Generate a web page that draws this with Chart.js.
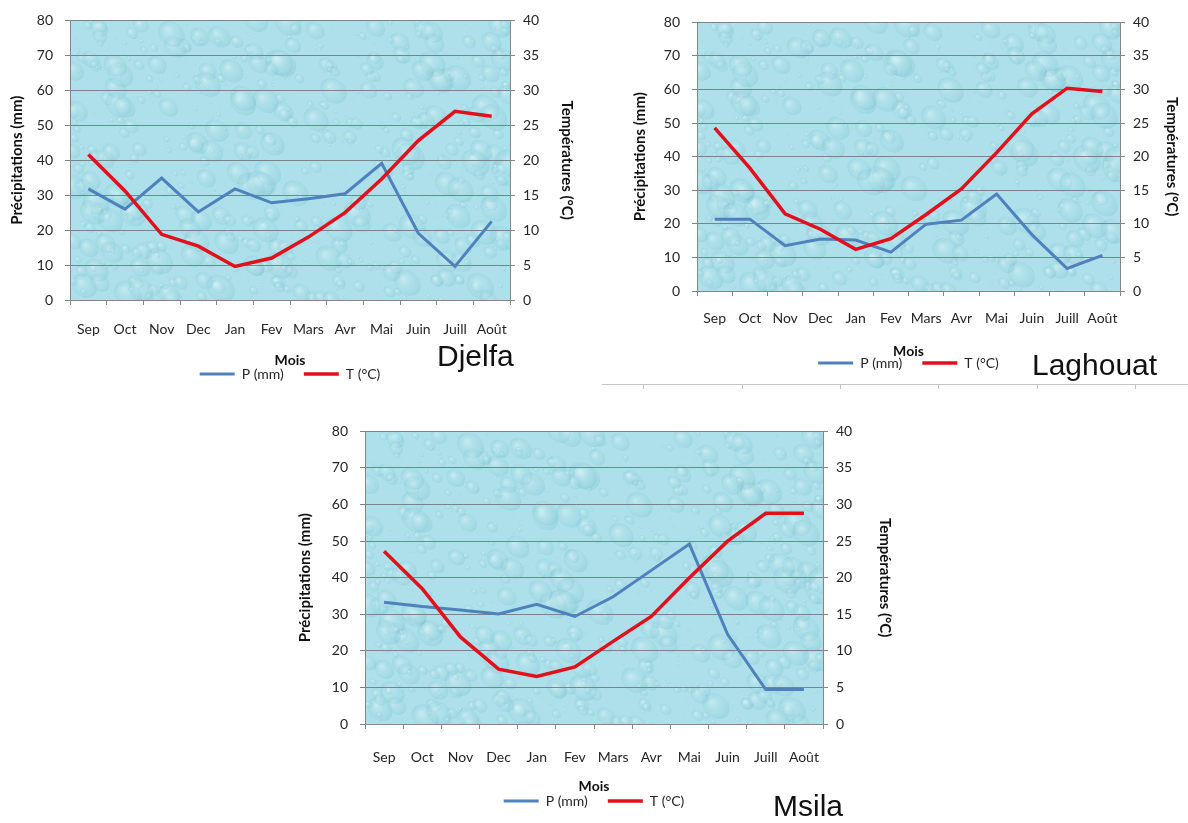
<!DOCTYPE html>
<html>
<head>
<meta charset="utf-8">
<script src="https://cdn.jsdelivr.net/npm/chart.js@4.4.1/dist/chart.umd.min.js"></script>
<style>
  body { margin: 0; background: #fff; width: 1188px; height: 823px; overflow: hidden; position: relative; }
  canvas { position: absolute; }
  .station { position: absolute; font-family: "Liberation Sans", Arial, sans-serif; font-size: 30px; line-height: 30px; color: #111; white-space: nowrap; }
  .rule { position: absolute; background: #c4c4c4; }
</style>
</head>
<body>
<canvas id="djelfa"></canvas>
<canvas id="laghouat"></canvas>
<canvas id="msila"></canvas>
<div class="station" style="left:437px; top:341px;">Djelfa</div>
<div class="station" style="left:1032px; top:350px;">Laghouat</div>
<div class="station" style="left:773px; top:791px;">Msila</div>
<div class="rule" style="left:602px; top:384px; width:586px; height:1px;"></div>
<div class="rule" style="left:643px; top:385px; width:1px; height:4px;"></div>
<div class="rule" style="left:742px; top:385px; width:1px; height:4px;"></div>
<div class="rule" style="left:840px; top:385px; width:1px; height:4px;"></div>
<div class="rule" style="left:938px; top:385px; width:1px; height:4px;"></div>
<div class="rule" style="left:1037px; top:385px; width:1px; height:4px;"></div>
<div class="rule" style="left:1135px; top:385px; width:1px; height:4px;"></div>
<script>
// months, Sep -> Août
const months = ['Sep', 'Oct', 'Nov', 'Dec', 'Jan', 'Fev', 'Mars', 'Avr', 'Mai', 'Juin', 'Juill', 'Août'];

// precipitation (mm) and temperature (°C)
const pDjelfa = [31.8, 26.0, 34.9, 25.2, 31.8, 27.8, 29.0, 30.4, 39.1, 19.1, 9.6, 22.5];
const tDjelfa = [20.8, 15.6, 9.4, 7.7, 4.8, 6.0, 9.0, 12.5, 17.3, 22.8, 27.0, 26.3];

const pLaghouat = [21.4, 21.4, 13.5, 15.5, 15.2, 11.6, 19.9, 21.1, 28.9, 16.8, 6.7, 10.6];
const tLaghouat = [24.3, 18.3, 11.5, 9.2, 6.2, 7.8, 11.4, 15.2, 20.6, 26.4, 30.2, 29.7];

const pMsila = [33.3, 32.1, 31.2, 30.1, 32.7, 29.4, 34.8, 42.0, 49.2, 24.5, 9.4, 9.4];
const tMsila = [23.6, 18.5, 11.9, 7.5, 6.5, 7.8, 11.3, 14.7, 20.0, 25.0, 28.8, 28.8];

// axis ticks
const pTicks = [0, 10, 20, 30, 40, 50, 60, 70, 80];
const tTicks = [0, 5, 10, 15, 20, 25, 30, 35, 40];

// where each graph sits on the page
const frames = {
    djelfa:   { titleL: 17,  titleR: 567,  plotL: 70,  plotR: 510,  plotT: 17,  plotB: 300, xlabY: 329, moisY: 360, legY: 374 },
    laghouat: { titleL: 640, titleR: 1172, plotL: 697, plotR: 1120, plotT: 19,  plotB: 291, xlabY: 318, moisY: 351, legY: 363 },
    msila:    { titleL: 305, titleR: 885,  plotL: 365, plotR: 823,  plotT: 428, plotB: 724, xlabY: 757, moisY: 786, legY: 801 }
};

const gridGrey = '#7a8589';
const axisGrey = '#868686';
const textGrey = '#262626';

// water drop texture behind the plot area
const dropsBackground = {
    id: 'dropsBackground',
    beforeDraw(chart) {
        const a = chart.chartArea;
        const ctx = chart.ctx;
        const w = a.right - a.left, h = a.bottom - a.top;
        ctx.save();
        ctx.beginPath();
        ctx.rect(a.left, a.top, w, h);
        ctx.clip();
        ctx.fillStyle = '#ade0ea';
        ctx.fillRect(a.left, a.top, w, h);

        let seed = 4242;
        const next = () => (seed = (seed * 16807) % 2147483647) / 2147483647;
        const count = Math.round(w * h / 160);
        for (let i = 0; i < count; i++) {
            const x = a.left + next() * w;
            const y = a.top + next() * h;
            const r = 1.5 + Math.pow(next(), 3) * 14;
            const g = ctx.createRadialGradient(x - r * 0.3, y - r * 0.3, r * 0.05, x, y, r);
            g.addColorStop(0, 'rgba(240,252,253,0.35)');
            g.addColorStop(0.6, 'rgba(150,210,222,0.18)');
            g.addColorStop(1, 'rgba(110,185,202,0.28)');
            ctx.fillStyle = g;
            ctx.beginPath();
            ctx.ellipse(x, y, r, r * 0.8, 0.7, 0, Math.PI * 2);
            ctx.fill();
        }
        ctx.restore();
    }
};

const makeChart = (id, pData, tData) => {
    const f = frames[id];
    const cL = f.titleL - 16;
    const cR = f.titleR + 16;
    const cT = f.plotT - 17;
    const legTop = f.legY - 27;
    const H = legTop + 44 + 2 - cT;

    const canvas = document.getElementById(id);
    canvas.width = cR - cL;
    canvas.height = H;
    canvas.style.left = cL + 'px';
    canvas.style.top = cT + 'px';

    const tickFont = { family: 'Lato', size: 14 };
    const titleFont = { family: 'Lato', size: 15, weight: 'bold' };
    const lh = 15 * 1.2 / 2;

    new Chart(canvas.getContext('2d'), {
        type: 'line',
        data: {
            labels: months,
            datasets: [
                {
                    label: 'P (mm)',
                    data: pData,
                    yAxisID: 'y',
                    borderColor: '#4f81bd',
                    backgroundColor: '#4f81bd',
                    pointBorderColor: '#4f81bd',
                    pointBorderWidth: 3,
                    borderWidth: 3,
                    pointRadius: 0,
                    tension: 0,
                    order: 2
                },
                {
                    label: 'T (°C)',
                    data: tData,
                    yAxisID: 'y1',
                    borderColor: '#e3101b',
                    backgroundColor: '#e3101b',
                    pointBorderColor: '#e3101b',
                    pointBorderWidth: 3.5,
                    borderWidth: 3.5,
                    pointRadius: 0,
                    tension: 0,
                    order: 1
                }
            ]
        },
        options: {
            responsive: false,
            animation: false,
            events: [],
            layout: {
                autoPadding: false,
                padding: { top: f.plotT - cT, left: 0, right: 0, bottom: 2 }
            },
            scales: {
                x: {
                    offset: true,
                    afterFit: (s) => { s.height = legTop - f.plotB; },
                    grid: { offset: true, drawOnChartArea: false, drawTicks: true, tickLength: 5, color: axisGrey },
                    border: { display: true, color: axisGrey, width: 1 },
                    ticks: { autoSkip: false, maxRotation: 0, padding: f.xlabY - f.plotB - 5 - 8.4, font: tickFont, color: textGrey },
                    title: { display: true, text: 'Mois', font: { family: 'Lato', size: 14, weight: 'bold' }, color: '#111', padding: { top: 0, bottom: legTop - f.moisY - 8.4 } }
                },
                y: {
                    position: 'left',
                    min: pTicks[0],
                    max: pTicks[pTicks.length - 1],
                    afterFit: (s) => { s.width = f.plotL - cL; },
                    ticks: { stepSize: pTicks[1] - pTicks[0], padding: 12, font: tickFont, color: textGrey },
                    grid: { color: gridGrey, lineWidth: 1, tickLength: 5 },
                    border: { display: true, color: axisGrey, width: 1 },
                    title: { display: true, text: 'Précipitations (mm)', font: titleFont, color: '#111', padding: { top: f.titleL - cL - lh, bottom: 0 } }
                },
                y1: {
                    position: 'right',
                    min: tTicks[0],
                    max: tTicks[tTicks.length - 1],
                    afterFit: (s) => { s.width = cR - f.plotR; },
                    ticks: { stepSize: tTicks[1] - tTicks[0], padding: 8, font: tickFont, color: textGrey },
                    grid: { drawOnChartArea: false, color: axisGrey, tickLength: 5 },
                    border: { display: true, color: axisGrey, width: 1 },
                    title: { display: true, text: 'Températures (°C)', font: titleFont, color: '#111', padding: { top: cR - f.titleR - lh, bottom: 0 } }
                }
            },
            plugins: {
                legend: {
                    display: true,
                    position: 'bottom',
                    fullSize: false,
                    labels: {
                        usePointStyle: true,
                        pointStyle: 'line',
                        pointStyleWidth: 35,
                        padding: 20,
                        font: { family: 'Lato', size: 14 },
                        color: textGrey,
                        sort: (a, b) => a.datasetIndex - b.datasetIndex
                    }
                },
                tooltip: { enabled: false }
            }
        },
        plugins: [dropsBackground]
    });
};

makeChart('djelfa', pDjelfa, tDjelfa);
makeChart('laghouat', pLaghouat, tLaghouat);
makeChart('msila', pMsila, tMsila);
</script>
</body>
</html>
